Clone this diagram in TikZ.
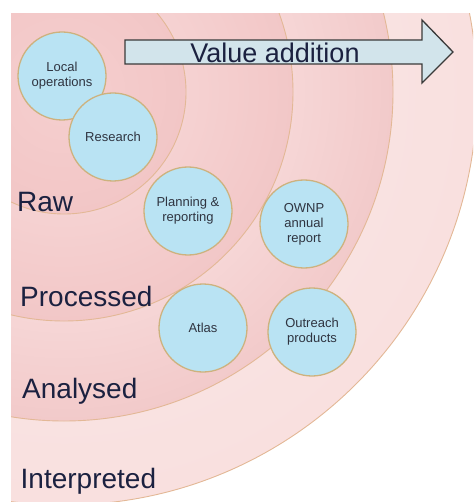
\documentclass[tikz,border=0pt]{standalone}
\usepackage{fontspec}
\setmainfont{Liberation Sans}
\definecolor{ringA}{HTML}{F2C6C6}
\definecolor{ringAin}{HTML}{F5CFCF}
\definecolor{ringB}{HTML}{F2C7C7}
\definecolor{ringBin}{HTML}{F9DEDE}
\definecolor{ringC}{HTML}{F2CACA}
\definecolor{ringCin}{HTML}{FFF1F1}
\definecolor{ringD}{HTML}{F9E0DF}
\definecolor{ringDin}{HTML}{FBE9E9}
\definecolor{arcline}{HTML}{E3B896}
\definecolor{bubfill}{HTML}{B9E3F3}
\definecolor{bubline}{HTML}{CDB27E}
\definecolor{bubtext}{HTML}{2F3440}
\definecolor{navy}{HTML}{1B2140}
\definecolor{arrowfill}{HTML}{D2E4EB}
\definecolor{arrowline}{HTML}{3A3A3A}
\begin{document}
\begin{tikzpicture}[x=1pt,y=-1pt,
  ringedge/.style={draw=arcline, line width=0.9pt},
  bub/.style={circle, draw=bubline, fill=bubfill, line width=1.3pt,
    minimum size=88pt, inner sep=0pt, align=center, text=bubtext,
    font=\fontsize{13}{15}\selectfont},
  stage/.style={anchor=base west, inner sep=0pt, text=navy,
    font=\fontsize{28}{30}\selectfont},
  banner/.style={draw=arrowline, fill=arrowfill, line width=1.3pt, line join=miter}]
\useasboundingbox (0,0) rectangle (473,502);
\coordinate (O) at (64,92);

% concentric stages, clipped to the panel
\begin{scope}
  \clip (11,14) rectangle (473,502);
  \shade[inner color=ringDin, outer color=ringD] (O) circle[radius=413pt];
  \draw[ringedge] (O) circle[radius=413pt];
  \shade[inner color=ringCin, outer color=ringC] (O) circle[radius=329pt];
  \draw[ringedge] (O) circle[radius=329pt];
  \shade[inner color=ringBin, outer color=ringB] (O) circle[radius=229pt];
  \draw[ringedge] (O) circle[radius=229pt];
  \shade[inner color=ringAin, outer color=ringA] (O) circle[radius=122pt];
  \draw[ringedge] (O) circle[radius=122pt];
\end{scope}

% value addition arrow
\draw[banner] (125,40) -- (422,40) -- (422,20) -- (453,52) -- (422,83)
  -- (422,64) -- (125,64) -- cycle;
\node[anchor=base, inner sep=0pt, text=navy, font=\fontsize{27}{29}\selectfont]
  (value) at (275,63) {Value addition};

% stage labels
\node[stage] (raw) at (17,212) {Raw};
\node[stage] (processed) at (20,306) {Processed};
\node[stage] (analysed) at (22,398) {Analysed};
\node[stage] (interpreted) at (20.5,488) {Interpreted};

% products
\node[bub] (local) at (62,76) {Local\\operations};
\node[bub] (research) at (113,137) {Research};
\node[bub] (planning) at (188,211) {Planning \&\\reporting};
\node[bub] (ownp) at (304,224) {OWNP\\annual\\report};
\node[bub] (atlas) at (203,328) {Atlas};
\node[bub] (outreach) at (312,332) {Outreach\\products};
\end{tikzpicture}
\end{document}
